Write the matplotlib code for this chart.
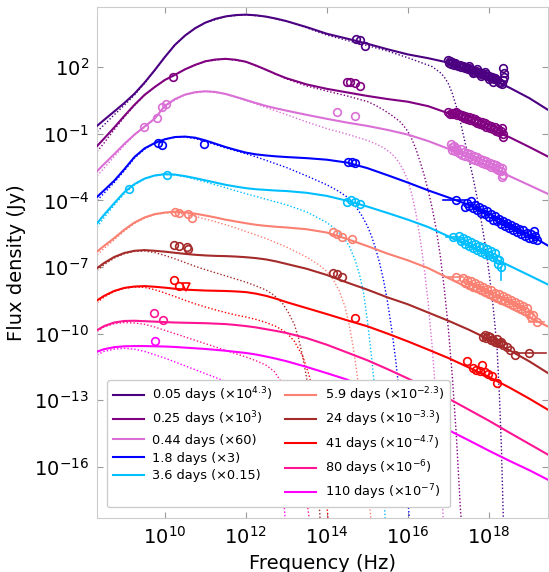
import numpy as np
import matplotlib
matplotlib.use("Agg")
import matplotlib.pyplot as plt
from matplotlib.ticker import FixedLocator, LogFormatterSciNotation, NullLocator

# epochs, colours and legend text (fluxes already scaled by the factor in the label)
labels = [
    "0.05 days (×10$^{4.3}$)", "0.25 days (×10$^{3}$)", "0.44 days (×60)",
    "1.8 days (×3)", "3.6 days (×0.15)", "5.9 days (×10$^{-2.3}$)",
    "24 days (×10$^{-3.3}$)", "41 days (×10$^{-4.7}$)", "80 days (×10$^{-6}$)",
    "110 days (×10$^{-7}$)",
]
colors = ["#4b0082", "#800080", "#da70d6", "#0000ff", "#00bfff",
          "#fa8072", "#a52a2a", "#ff0000", "#ff1493", "#ff00ff"]

# total model flux, log10(Jy) on a common log10(Hz) grid
log_nu = np.array([8.33, 8.5, 8.75, 9.0, 9.25, 9.5, 9.75, 10.0, 10.25, 10.5, 10.75, 11.0,
                   11.25, 11.5, 11.75, 12.0, 12.25, 12.5, 12.75, 13.0, 13.5, 14.0, 14.5,
                   15.0, 15.5, 16.0, 16.5, 17.0, 17.5, 18.0, 18.5, 19.0, 19.47])
total_005 = [-0.64, -0.38, 0.0, 0.38, 0.8, 1.3, 1.86, 2.45, 3.0, 3.42, 3.75, 4.0,
             4.17, 4.28, 4.34, 4.36, 4.33, 4.27, 4.18, 4.07, 3.8, 3.5, 3.28,
             3.05, 2.8, 2.57, 2.4, 2.2, 1.86, 1.5, 1.08, 0.6, 0.06]
total_025 = [-1.55, -1.22, -0.72, -0.2, 0.3, 0.75, 1.1, 1.42, 1.65, 1.9, 2.1, 2.26,
             2.34, 2.37, 2.33, 2.24, 2.07, 1.88, 1.68, 1.5, 1.22, 1.02, 0.86,
             0.7, 0.56, 0.44, 0.24, -0.08, -0.45, -0.8, -1.15, -1.6, -2.04]
total_044 = [-2.68, -2.37, -1.92, -1.46, -1.04, -0.68, -0.32, 0.25, 0.56, 0.76, 0.87, 0.91,
             0.88, 0.79, 0.66, 0.52, 0.38, 0.25, 0.14, 0.04, -0.15, -0.33, -0.5,
             -0.65, -0.83, -1.04, -1.33, -1.68, -2.08, -2.5, -2.9, -3.32, -3.72]
total_18 = [-3.84, -3.55, -3.12, -2.6, -2.05, -1.66, -1.42, -1.25, -1.15, -1.13, -1.18, -1.3,
            -1.45, -1.6, -1.73, -1.85, -1.93, -1.98, -2.02, -2.05, -2.1, -2.17, -2.3,
            -2.55, -2.87, -3.2, -3.55, -3.87, -4.2, -4.6, -5.05, -5.55, -6.05]
total_36 = [-5.03, -4.65, -4.13, -3.63, -3.27, -3.02, -2.88, -2.82, -2.84, -2.91, -3.0, -3.1,
            -3.2, -3.3, -3.38, -3.45, -3.5, -3.53, -3.56, -3.58, -3.66, -3.8, -4.02,
            -4.28, -4.57, -4.87, -5.2, -5.62, -6.06, -6.5, -6.94, -7.38, -7.8]
total_59 = [-6.3, -6.05, -5.7, -5.32, -5.0, -4.77, -4.62, -4.55, -4.51, -4.54, -4.6, -4.68,
            -4.77, -4.87, -4.95, -5.03, -5.1, -5.15, -5.19, -5.22, -5.3, -5.45, -5.74,
            -6.06, -6.4, -6.7, -7.05, -7.5, -7.95, -8.38, -8.82, -9.27, -9.69]
total_24 = [-7.05, -6.82, -6.55, -6.37, -6.27, -6.24, -6.27, -6.31, -6.36, -6.41, -6.45, -6.48,
            -6.5, -6.51, -6.53, -6.56, -6.6, -6.66, -6.75, -6.86, -7.08, -7.36, -7.7,
            -8.02, -8.37, -8.68, -9.05, -9.42, -9.82, -10.26, -10.74, -11.25, -11.79]
total_41 = [-8.5, -8.3, -8.08, -7.94, -7.88, -7.86, -7.89, -7.93, -7.98, -8.02, -8.04, -8.06,
            -8.07, -8.08, -8.1, -8.13, -8.2, -8.3, -8.43, -8.58, -8.85, -9.12, -9.4,
            -9.67, -10.0, -10.35, -10.72, -11.1, -11.52, -11.95, -12.42, -12.93, -13.44]
total_80 = [-9.84, -9.66, -9.5, -9.43, -9.42, -9.44, -9.46, -9.48, -9.5, -9.51, -9.52, -9.53,
            -9.55, -9.57, -9.61, -9.66, -9.72, -9.8, -9.88, -9.97, -10.2, -10.5, -10.85,
            -11.2, -11.6, -12.02, -12.47, -12.92, -13.42, -13.92, -14.45, -14.97, -15.46]
total_110 = [-10.81, -10.7, -10.61, -10.57, -10.56, -10.56, -10.57, -10.58, -10.6, -10.63,
             -10.66, -10.69, -10.73, -10.77, -10.82, -10.87, -10.94, -11.03, -11.13, -11.24,
             -11.5, -11.78, -12.07, -12.48, -12.95, -13.41, -13.88, -14.34, -14.8, -15.27,
             -15.72, -16.15, -16.59]
total_flux = [total_005, total_025, total_044, total_18, total_36,
              total_59, total_24, total_41, total_80, total_110]

# cut-off component (dotted), log10(Hz) / log10(Jy)
comp_nu_005 = [8.33, 8.5, 8.75, 9.0, 9.25, 9.5, 9.75, 10.0, 10.25, 10.5, 10.75, 11.0,
               11.5, 12.0, 12.5, 13.0, 13.5, 14.0, 14.5, 15.0, 15.5, 16.0, 16.3, 16.6,
               16.8, 16.9, 17.0, 17.1, 17.2, 17.3, 17.4, 17.5, 17.6, 17.7, 17.8, 17.9,
               18.0, 18.1, 18.2, 18.26, 18.31, 18.36]
comp_f_005 = [-0.9, -0.6, -0.15, 0.28, 0.74, 1.27, 1.85, 2.45, 3.0, 3.42, 3.75, 4.0,
              4.28, 4.36, 4.27, 4.06, 3.77, 3.44, 3.2, 2.97, 2.72, 2.42, 2.22, 2.02,
              1.75, 1.55, 1.25, 0.8, 0.2, -0.5, -1.3, -2.1, -2.9, -3.8, -4.8, -5.9,
              -7.2, -8.7, -10.6, -12.8, -15.2, -18.6]
comp_nu_025 = [8.33, 8.5, 8.75, 9.0, 9.25, 9.5, 9.75, 10.0, 10.5, 11.0, 11.5, 12.0,
               12.5, 13.0, 13.5, 14.0, 14.5, 15.0, 15.2, 15.4, 15.6, 15.8, 15.9, 16.0,
               16.1, 16.2, 16.3, 16.4, 16.5, 16.6, 16.7, 16.8, 16.9, 17.0, 17.1, 17.2,
               17.3, 17.33]
comp_f_025 = [-1.8, -1.42, -0.82, -0.25, 0.27, 0.73, 1.1, 1.42, 1.9, 2.26, 2.37, 2.24,
              1.87, 1.47, 1.15, 0.92, 0.7, 0.45, 0.28, 0.07, -0.17, -0.45, -0.65, -0.9,
              -1.25, -1.7, -2.25, -2.85, -3.55, -4.35, -5.3, -6.5, -8.0, -9.8, -12.0, -14.7,
              -18.0, -18.6]
comp_nu_044 = [8.33, 8.5, 8.75, 9.0, 9.25, 9.5, 9.75, 10.0, 10.5, 11.0, 11.5, 12.0,
               12.5, 13.0, 13.5, 14.0, 14.5, 15.0, 15.2, 15.4, 15.6, 15.7, 15.8, 15.9,
               16.0, 16.1, 16.2, 16.3, 16.4, 16.5, 16.6, 16.7, 16.8, 16.88]
comp_f_044 = [-2.9, -2.55, -2.03, -1.52, -1.06, -0.7, -0.33, 0.25, 0.76, 0.91, 0.79, 0.5,
              0.18, -0.14, -0.47, -0.77, -1.02, -1.3, -1.45, -1.63, -1.9, -2.1, -2.35, -2.68,
              -3.1, -3.75, -4.6, -5.7, -7.0, -8.6, -10.6, -13.0, -15.8, -18.6]
comp_nu_18 = [8.33, 8.5, 8.75, 9.0, 9.25, 9.5, 9.75, 10.0, 10.25, 10.5, 10.75, 11.0,
              11.25, 11.5, 11.75, 12.0, 12.25, 12.5, 12.75, 13.0, 13.5, 14.0, 14.3, 14.5,
              14.7, 14.85, 15.0, 15.1, 15.2, 15.3, 15.4, 15.5, 15.6, 15.7, 15.8, 15.9,
              16.0, 16.05]
comp_f_18 = [-4.0, -3.68, -3.2, -2.67, -2.1, -1.7, -1.43, -1.26, -1.16, -1.15, -1.22, -1.35,
             -1.5, -1.64, -1.77, -1.9, -2.04, -2.2, -2.36, -2.52, -2.9, -3.3, -3.6, -3.85,
             -4.25, -4.65, -5.15, -5.6, -6.15, -6.8, -7.6, -8.6, -9.8, -11.2, -12.9, -15.0,
             -17.5, -18.6]
comp_nu_36 = [8.33, 8.5, 8.75, 9.0, 9.25, 9.5, 9.75, 10.0, 10.25, 10.5, 10.75, 11.0,
              11.25, 11.5, 11.75, 12.0, 12.5, 13.0, 13.5, 14.0, 14.2, 14.4, 14.55, 14.7,
              14.8, 14.9, 15.0, 15.1, 15.2, 15.3, 15.4, 15.45]
comp_f_36 = [-5.2, -4.78, -4.22, -3.7, -3.3, -3.04, -2.9, -2.84, -2.86, -2.94, -3.05, -3.17,
             -3.3, -3.43, -3.57, -3.7, -3.95, -4.2, -4.52, -5.0, -5.28, -5.64, -6.05, -6.7,
             -7.3, -8.1, -9.4, -11.0, -12.8, -14.9, -17.2, -18.6]
comp_nu_59 = [8.33, 8.5, 8.75, 9.0, 9.25, 9.5, 9.75, 10.0, 10.25, 10.5, 10.75, 11.0,
              11.25, 11.5, 11.75, 12.0, 12.5, 13.0, 13.5, 13.8, 14.0, 14.15, 14.3, 14.45,
              14.55, 14.65, 14.75, 14.85, 14.95, 15.02, 15.1]
comp_f_59 = [-6.45, -6.17, -5.78, -5.38, -5.04, -4.8, -4.64, -4.57, -4.56, -4.62, -4.72, -4.84,
             -4.96, -5.1, -5.24, -5.4, -5.72, -6.1, -6.55, -6.9, -7.2, -7.55, -8.05, -8.8,
             -9.6, -10.6, -11.9, -13.5, -15.4, -17.0, -18.6]
comp_nu_24 = [8.33, 8.5, 8.75, 9.0, 9.25, 9.5, 9.75, 10.0, 10.25, 10.5, 10.75, 11.0,
              11.25, 11.5, 11.75, 12.0, 12.25, 12.5, 12.7, 12.9, 13.05, 13.2, 13.3, 13.4,
              13.5, 13.6, 13.7, 13.8, 13.84]
comp_f_24 = [-7.15, -6.9, -6.6, -6.4, -6.3, -6.28, -6.35, -6.48, -6.63, -6.8, -6.97, -7.12,
             -7.26, -7.4, -7.54, -7.68, -7.85, -8.04, -8.28, -8.62, -9.05, -9.6, -10.2, -11.0,
             -12.0, -13.3, -15.0, -17.3, -18.6]
comp_nu_41 = [8.33, 8.5, 8.75, 9.0, 9.25, 9.5, 9.75, 10.0, 10.25, 10.5, 10.75, 11.0,
              11.25, 11.5, 11.75, 12.0, 12.25, 12.5, 12.75, 13.0, 13.2, 13.4, 13.55, 13.7,
              13.82, 13.94, 14.04]
comp_f_41 = [-8.6, -8.35, -8.1, -7.96, -7.9, -7.92, -8.02, -8.17, -8.33, -8.5, -8.66, -8.8,
             -8.93, -9.05, -9.16, -9.25, -9.36, -9.5, -9.68, -9.95, -10.35, -11.0, -11.8, -12.9,
             -14.3, -16.2, -18.6]
comp_nu_80 = [8.33, 8.5, 8.75, 9.0, 9.25, 9.5, 9.75, 10.0, 10.25, 10.5, 10.75, 11.0,
              11.25, 11.5, 11.75, 12.0, 12.25, 12.5, 12.7, 12.85, 13.0, 13.15, 13.3, 13.45,
              13.58]
comp_f_80 = [-9.9, -9.7, -9.55, -9.5, -9.52, -9.58, -9.7, -9.85, -10.0, -10.15, -10.3, -10.45,
             -10.6, -10.75, -10.9, -11.05, -11.22, -11.42, -11.7, -12.1, -12.7, -13.6, -14.9,
             -16.6, -18.6]
comp_nu_110 = [8.33, 8.5, 8.75, 9.0, 9.25, 9.5, 9.75, 10.0, 10.5, 11.0, 11.5, 12.0,
               12.2, 12.4, 12.55, 12.68, 12.8, 12.9, 12.98]
comp_f_110 = [-10.95, -10.8, -10.7, -10.66, -10.7, -10.8, -10.95, -11.1, -11.45, -11.8,
              -12.15, -12.5, -12.7, -12.98, -13.35, -14.0, -15.0, -16.5, -18.6]
comp_nu = [comp_nu_005, comp_nu_025, comp_nu_044, comp_nu_18, comp_nu_36,
           comp_nu_59, comp_nu_24, comp_nu_41, comp_nu_80, comp_nu_110]
comp_f = [comp_f_005, comp_f_025, comp_f_044, comp_f_18, comp_f_36,
          comp_f_59, comp_f_24, comp_f_41, comp_f_80, comp_f_110]

# observed radio / optical / X-ray fluxes, log10(Hz) and log10(Jy)
obs_nu_005 = [14.73, 14.81, 14.94,
              17.00, 17.02, 17.05, 17.07, 17.10, 17.13, 17.16, 17.20, 17.24, 17.28, 17.32,
              17.36, 17.40, 17.44, 17.48, 17.52, 17.56, 17.60, 17.64, 17.68, 17.72, 17.76,
              17.80, 17.84, 17.88, 17.92, 17.96, 18.00, 18.04, 18.08, 18.12, 18.16, 18.20,
              18.24, 18.28, 18.32, 18.36, 18.38, 18.37, 18.35, 17.50, 17.70, 17.90, 17.60,
              17.80, 18.00, 18.10]
obs_f_005 = [3.25, 3.22, 2.95,
             2.30, 2.18, 2.26, 2.12, 2.22, 2.08, 2.18, 2.12, 2.05, 2.10, 2.00,
             2.04, 1.95, 1.99, 1.90, 1.94, 1.85, 1.89, 1.80, 1.84, 1.74, 1.78,
             1.70, 1.73, 1.64, 1.68, 1.58, 1.62, 1.52, 1.56, 1.45, 1.50, 1.40,
             1.34, 1.28, 1.22, 1.95, 1.75, 1.55, 1.40, 2.05, 1.93, 1.78, 1.72,
             1.58, 1.45, 1.35]
obs_nu_025 = [10.20, 14.49, 14.57, 14.69, 14.81,
              17.00, 17.04, 17.08, 17.12, 17.16, 17.20, 17.22, 17.26, 17.30, 17.34, 17.38,
              17.42, 17.46, 17.50, 17.54, 17.58, 17.62, 17.66, 17.70, 17.74, 17.78, 17.82,
              17.86, 17.90, 17.94, 17.98, 18.02, 18.06, 18.10, 18.14, 18.18, 18.22, 18.26,
              18.30, 18.34, 18.35, 18.33]
obs_f_025 = [1.56, 1.34, 1.31, 1.27, 1.15,
             -0.02, -0.10, -0.05, -0.12, -0.06, 0.00, -0.18, -0.10, -0.22, -0.15, -0.28,
             -0.20, -0.32, -0.25, -0.38, -0.30, -0.44, -0.36, -0.50, -0.42, -0.55, -0.48,
             -0.62, -0.54, -0.68, -0.60, -0.74, -0.66, -0.80, -0.72, -0.86, -0.80, -0.92,
             -0.88, -1.00, -1.13, -0.75]
obs_nu_044 = [9.49, 9.80, 9.92, 10.02, 14.26, 14.69,
              17.06, 17.08, 17.10, 17.13, 17.16, 17.19, 17.22, 17.26, 17.30, 17.34, 17.38,
              17.42, 17.46, 17.50, 17.54, 17.58, 17.62, 17.66, 17.70, 17.74, 17.78, 17.82,
              17.86, 17.90, 17.94, 17.98, 18.02, 18.06, 18.10, 18.14, 18.18, 18.22, 18.26,
              18.30, 18.33, 18.35, 18.33]
obs_f_044 = [-0.69, -0.31, 0.21, 0.33, -0.01, -0.21,
             -1.48, -1.60, -1.72, -1.55, -1.80, -1.65, -1.75, -1.88, -1.70, -1.95, -1.82,
             -2.00, -1.88, -2.05, -1.92, -2.12, -2.00, -2.18, -2.06, -2.25, -2.12, -2.30,
             -2.18, -2.36, -2.24, -2.42, -2.30, -2.48, -2.36, -2.55, -2.40, -2.62, -2.48,
             -2.70, -2.55, -2.85, -2.95]
obs_nu_18 = [9.83, 9.94, 10.96, 14.53, 14.61, 14.69,
             17.20, 17.45, 17.40, 17.50, 17.55, 17.60, 17.65, 17.70, 17.75, 17.80, 17.85,
             17.90, 17.95, 18.00, 18.05, 18.10, 18.15, 18.20, 18.25, 18.30, 18.35, 18.40,
             18.45, 18.50, 18.55, 18.60, 18.65, 18.70, 18.75, 18.80, 18.85, 18.90, 18.95,
             19.00, 19.05, 19.10, 19.15, 19.18, 19.12]
obs_f_18 = [-1.43, -1.51, -1.47, -2.29, -2.26, -2.33,
            -3.99, -4.13, -4.30, -4.25, -4.05, -4.35, -4.20, -4.45, -4.30, -4.55, -4.38,
            -4.62, -4.50, -4.75, -4.60, -4.88, -4.70, -4.95, -4.82, -5.05, -4.92, -5.15,
            -5.00, -5.25, -5.10, -5.35, -5.20, -5.42, -5.28, -5.50, -5.35, -5.60, -5.45,
            -5.68, -5.52, -5.75, -5.60, -5.79, -5.40]
obs_nu_36 = [9.12, 10.06, 14.49, 14.59, 14.69, 14.81,
             17.12, 17.25, 17.30, 17.35, 17.40, 17.45, 17.50, 17.55, 17.60, 17.65, 17.70,
             17.75, 17.80, 17.85, 17.90, 17.95, 18.00, 18.05, 18.10, 18.15, 18.20, 18.25,
             18.31, 18.22]
obs_f_36 = [-3.50, -2.86, -4.06, -3.99, -4.09, -4.18,
            -5.64, -5.60, -5.85, -5.70, -5.95, -5.78, -6.05, -5.88, -6.15, -5.95, -6.22,
            -6.05, -6.32, -6.12, -6.40, -6.20, -6.48, -6.30, -6.55, -6.38, -6.62, -6.70,
            -6.99, -6.85]
obs_nu_59 = [10.25, 10.35, 10.56, 10.67, 14.14, 14.26, 14.38, 14.61,
             17.20, 17.35, 17.40, 17.45, 17.50, 17.55, 17.60, 17.65, 17.70, 17.75, 17.80,
             17.85, 17.90, 17.95, 18.00, 18.05, 18.10, 18.15, 18.20, 18.25, 18.30, 18.35,
             18.40, 18.45, 18.50, 18.55, 18.60, 18.65, 18.70, 18.75, 18.80, 18.85, 18.90,
             18.95, 19.00, 19.05, 19.10, 19.18]
obs_f_59 = [-4.51, -4.56, -4.63, -4.81, -5.41, -5.52, -5.64, -5.76,
            -7.44, -7.50, -7.70, -7.58, -7.80, -7.65, -7.88, -7.72, -7.95, -7.80, -8.05,
            -7.88, -8.12, -7.98, -8.20, -8.05, -8.30, -8.15, -8.38, -8.22, -8.48, -8.30,
            -8.55, -8.40, -8.62, -8.48, -8.72, -8.58, -8.80, -8.65, -8.90, -8.75, -8.98,
            -8.85, -9.10, -9.25, -9.15, -9.46]
obs_nu_24 = [10.23, 10.35, 10.54, 10.58, 14.14, 14.26, 14.38,
             17.86, 17.90, 17.94, 17.98, 18.02, 18.06, 18.11, 18.15, 18.19, 18.23, 18.27,
             18.31, 18.35, 18.44, 18.52, 18.64, 19.00]
obs_f_24 = [-6.01, -6.06, -6.11, -6.19, -7.26, -7.32, -7.44,
            -10.14, -10.05, -10.21, -10.10, -10.17, -10.30, -10.29, -10.36, -10.26, -10.40,
            -10.44, -10.38, -10.51, -10.59, -10.74, -10.96, -10.89]
obs_nu_41 = [10.23, 10.35, 14.69,
             17.47, 17.61, 17.69, 17.78, 17.84, 17.90, 17.98, 18.07, 18.21]
obs_f_41 = [-7.59, -7.86, -9.31,
            -11.23, -11.56, -11.64, -11.67, -11.41, -11.71, -11.82, -11.91, -12.23]
obs_nu_80 = [9.74, 9.96]
obs_f_80 = [-9.09, -9.39]
obs_nu_110 = [9.75]
obs_f_110 = [-10.33]
obs_nu = [obs_nu_005, obs_nu_025, obs_nu_044, obs_nu_18, obs_nu_36,
          obs_nu_59, obs_nu_24, obs_nu_41, obs_nu_80, obs_nu_110]
obs_f = [obs_f_005, obs_f_025, obs_f_044, obs_f_18, obs_f_36,
         obs_f_59, obs_f_24, obs_f_41, obs_f_80, obs_f_110]

# 41 d radio upper limit
limit_nu_41 = [10.53]
limit_f_41 = [-7.89]

# X-ray band widths on a few points: epoch index, log nu lo/hi, log flux
xbar_epoch = [3, 4, 5, 5, 6]
xbar_lo = [16.87, 16.95, 17.00, 19.00, 18.68]
xbar_hi = [17.40, 17.25, 17.35, 19.35, 19.42]
xbar_f = [-3.99, -5.64, -7.44, -9.46, -10.89]
# flux error on the faintest 3.6 d point
ybar_nu = [18.31]
ybar_lo = [-7.60]
ybar_hi = [-6.99]

fig = plt.figure(figsize=(5.49, 5.72), dpi=100)
ax = fig.add_axes([0.177, 0.0944, 0.822, 0.8928])

for i in range(len(labels)):
    c = colors[i]
    ax.plot(10.0 ** log_nu, 10.0 ** np.array(total_flux[i]), color=c, lw=1.5,
            label=labels[i], zorder=3)
    ax.plot(10.0 ** np.array(comp_nu[i]), 10.0 ** np.array(comp_f[i]), color=c,
            lw=1.0, ls=(0, (1, 1.5)), zorder=2)
    ax.plot(10.0 ** np.array(obs_nu[i]), 10.0 ** np.array(obs_f[i]), ls="none",
            marker="o", ms=5.5, mfc="none", mec=c, mew=1.2, zorder=4)

ax.plot(10.0 ** np.array(limit_nu_41), 10.0 ** np.array(limit_f_41), ls="none",
        marker="v", ms=6, mfc="none", mec=colors[7], mew=1.2, zorder=4)

for k in range(len(xbar_epoch)):
    ax.plot([10.0 ** xbar_lo[k], 10.0 ** xbar_hi[k]], [10.0 ** xbar_f[k]] * 2,
            color=colors[xbar_epoch[k]], lw=1.2, zorder=4)
for k in range(len(ybar_nu)):
    ax.plot([10.0 ** ybar_nu[k]] * 2, [10.0 ** ybar_lo[k], 10.0 ** ybar_hi[k]],
            color=colors[4], lw=1.2, zorder=4)

ax.set_xscale("log")
ax.set_yscale("log")
ax.set_xlim(10 ** 8.33, 10 ** 19.47)
ax.set_ylim(10 ** -18.3, 10 ** 4.69)

ax.xaxis.set_major_locator(FixedLocator(10.0 ** np.arange(10, 19, 2)))
ax.yaxis.set_major_locator(FixedLocator(10.0 ** np.arange(-16, 3, 3)))
ax.xaxis.set_major_formatter(LogFormatterSciNotation())
ax.yaxis.set_major_formatter(LogFormatterSciNotation())
ax.xaxis.set_minor_locator(NullLocator())
ax.yaxis.set_minor_locator(NullLocator())
ax.tick_params(which="both", direction="in", top=True, right=True, length=4,
               color="#999999", labelsize=14, pad=6)
for s in ax.spines.values():
    s.set_color("#cccccc")

ax.set_xlabel("Frequency (Hz)", fontsize=14, labelpad=4)
ax.set_ylabel("Flux density (Jy)", fontsize=14, labelpad=6)

leg = ax.legend(ncol=2, loc="lower left", bbox_to_anchor=(0.008, 0.008), fontsize=9.3,
                handlelength=2.4, handletextpad=0.65, columnspacing=1.0,
                labelspacing=0.36, frameon=True, fancybox=True, framealpha=1.0,
                borderpad=0.42)
leg.get_frame().set_edgecolor("#cccccc")

fig.savefig("out.png", dpi=100)
